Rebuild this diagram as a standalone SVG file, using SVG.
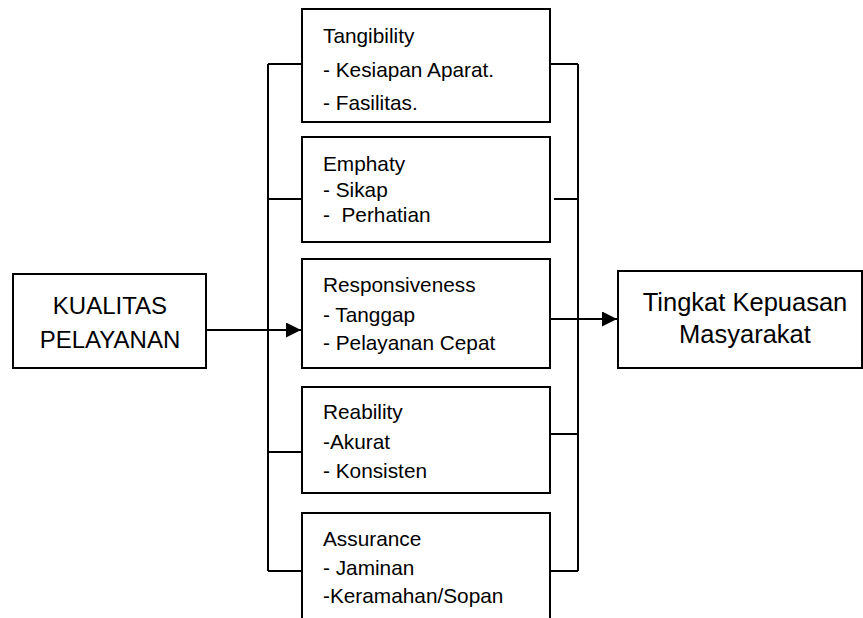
<svg xmlns="http://www.w3.org/2000/svg" width="863" height="618" viewBox="0 0 863 618">
<style>
rect{fill:#fff;stroke:#000;stroke-width:2}
.c line,.c polyline{stroke:#000;stroke-width:2;fill:none}
text{font-family:"Liberation Sans",Arial,sans-serif;fill:#000}
.s{font-size:20.8px}
.b{font-size:24px;text-anchor:middle}
.t{font-size:25.5px;text-anchor:middle}
</style>
<defs>
<marker id="ah" markerWidth="15" markerHeight="15" refX="15" refY="7.5" orient="auto" markerUnits="userSpaceOnUse">
<polygon points="0,0 15,7.5 0,15" fill="#000"/>
</marker>
</defs>
<g class="c" id="connectors">
<line x1="268" y1="64" x2="268" y2="571"/>
<line x1="578" y1="64" x2="578" y2="571"/>
<line x1="268" y1="64" x2="302" y2="64"/>
<line x1="268" y1="199" x2="302" y2="199"/>
<line x1="268" y1="452" x2="302" y2="452"/>
<line x1="268" y1="571" x2="302" y2="571"/>
<line x1="550" y1="64" x2="578" y2="64"/>
<line x1="554" y1="199" x2="578" y2="199"/>
<line x1="550" y1="434" x2="578" y2="434"/>
<line x1="550" y1="571" x2="578" y2="571"/>
<line x1="206" y1="330" x2="301" y2="330" marker-end="url(#ah)"/>
<line x1="550" y1="319" x2="617" y2="319" marker-end="url(#ah)"/>
</g>
<g id="kualitas">
<rect x="13" y="274" width="193" height="94"/>
<text class="b" x="110" y="314">KUALITAS</text>
<text class="b" x="110" y="348">PELAYANAN</text>
</g>
<g id="tangibility">
<rect x="302" y="9" width="248" height="113"/>
<text class="s" x="323" y="43">Tangibility</text>
<text class="s" x="323" y="77">- Kesiapan Aparat.</text>
<text class="s" x="323" y="110">- Fasilitas.</text>
</g>
<g id="emphaty">
<rect x="302" y="137" width="248" height="105"/>
<text class="s" x="323" y="171">Emphaty</text>
<text class="s" x="323" y="197">- Sikap</text>
<text class="s" x="323" y="222" xml:space="preserve">-  Perhatian</text>
</g>
<g id="responsiveness">
<rect x="302" y="259" width="248" height="109"/>
<text class="s" x="323" y="292">Responsiveness</text>
<text class="s" x="323" y="322">- Tanggap</text>
<text class="s" x="323" y="350">- Pelayanan Cepat</text>
</g>
<g id="reability">
<rect x="302" y="387" width="248" height="106"/>
<text class="s" x="323" y="419">Reability</text>
<text class="s" x="323" y="449">-Akurat</text>
<text class="s" x="323" y="478">- Konsisten</text>
</g>
<g id="assurance">
<rect x="302" y="513" width="248" height="115"/>
<text class="s" x="323" y="546">Assurance</text>
<text class="s" x="323" y="575">- Jaminan</text>
<text class="s" x="323" y="603">-Keramahan/Sopan</text>
</g>
<g id="tingkat">
<rect x="618" y="271" width="244" height="97"/>
<text class="t" x="745" y="311">Tingkat Kepuasan</text>
<text class="t" x="745" y="343">Masyarakat</text>
</g>
</svg>
